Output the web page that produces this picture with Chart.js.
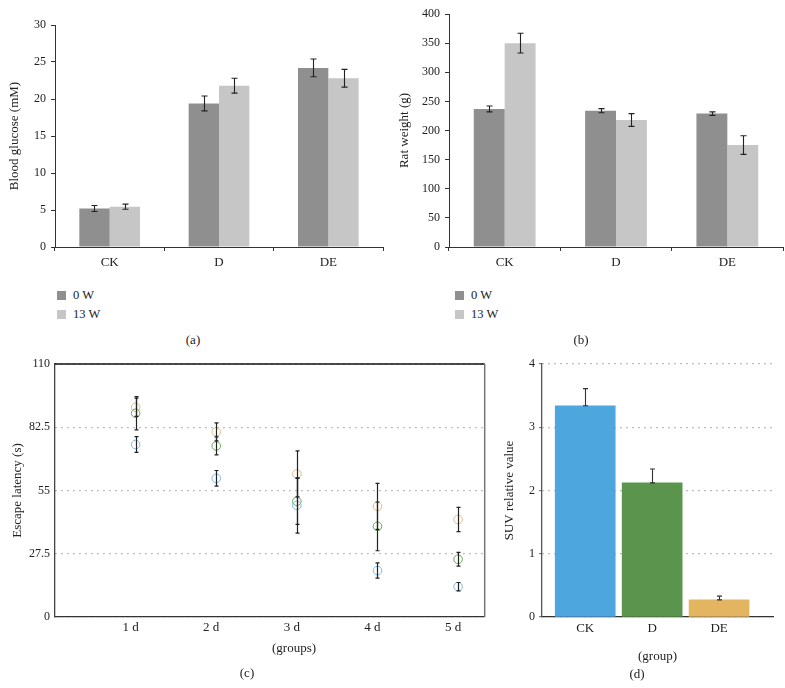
<!DOCTYPE html>
<html>
<head>
<meta charset="utf-8">
<script src="https://cdn.jsdelivr.net/npm/chart.js@4.4.0/dist/chart.umd.min.js"></script>
<style>
  body { margin: 0; background: #fff; width: 785px; height: 688px; position: relative; overflow: hidden;
         font-family: "Liberation Serif", serif; color: #222; }
  canvas { position: absolute; }
  .cap { position: absolute; font-size: 13px; transform: translate(-50%, -50%); white-space: nowrap; }
  .legend { position: absolute; font-size: 12.5px; line-height: 19px; }
  .legend .box { display: inline-block; width: 9px; height: 9px; margin-right: 7px; vertical-align: -1px; }
</style>
</head>
<body>
<canvas id="chartA" width="390" height="272" style="left:0;top:0"></canvas>
<canvas id="chartB" width="395" height="272" style="left:390px;top:0"></canvas>
<canvas id="chartC" width="490" height="310" style="left:0;top:350px"></canvas>
<canvas id="chartD" width="305" height="320" style="left:480px;top:350px"></canvas>
<div class="legend" id="legendA" style="left:57px;top:286px"></div>
<div class="legend" id="legendB" style="left:455px;top:286px"></div>
<div class="cap" style="left:193px;top:340px">(a)</div>
<div class="cap" style="left:581px;top:340px">(b)</div>
<div class="cap" style="left:294px;top:648px">(groups)</div>
<div class="cap" style="left:247px;top:673px">(c)</div>
<div class="cap" style="left:637px;top:674px">(d)</div>
<script>
// (a) + (b): groups and weeks
const groups = ['CK', 'D', 'DE'];
const weeks = ['0 W', '13 W'];
const glucose0W = [5.2, 19.4, 24.2];
const glucose0WErr = [0.4, 1.0, 1.2];
const glucose13W = [5.45, 21.8, 22.8];
const glucose13WErr = [0.35, 1.0, 1.2];
const weight0W = [237, 234, 229];
const weight0WErr = [5, 3.5, 3];
const weight13W = [350, 218, 175];
const weight13WErr = [17, 11, 16];

// (c): escape latency per day
const days = ['1 d', '2 d', '3 d', '4 d', '5 d'];
const latencyCK = [75.0, 60.3, 48.5, 20.2, 13.2];
const latencyCKErr = [3.4, 3.4, 12, 3.3, 1.8];
const latencyD = [88.6, 74.4, 50.3, 39.4, 25.1];
const latencyDErr = [7.2, 3.9, 10, 10.6, 3];
const latencyDE = [91.2, 80.5, 62.2, 48.1, 42.4];
const latencyDEErr = [4, 3.9, 10, 10, 5.3];

// (d): SUV
const suv = [3.34, 2.12, 0.27];
const suvErr = [0.27, 0.22, 0.06];

const greyColors = ['#8f8f8f', '#c6c6c6'];
const groupColors = ['#4ea6df', '#5b954d', '#e3b561'];
const pointColors = ['#7db9e3', '#6ba656', '#ddbb85'];

Chart.defaults.font.family = '"Liberation Serif", serif';
Chart.defaults.font.size = 12;
Chart.defaults.color = '#222';
Chart.defaults.animation = false;
Chart.defaults.plugins.legend.display = false;
Chart.defaults.plugins.tooltip.enabled = false;

const titleFont = { size: 13 };
const catFont = { size: 13 };

// error bars drawn with the y scale of each chart
const errorBars = {
  id: 'errorBars',
  afterDatasetsDraw(chart, args, opts) {
    const ctx = chart.ctx;
    const y = chart.scales.y;
    const cap = opts.cap || 3;
    chart.data.datasets.forEach((ds, di) => {
      if (!ds.errors) return;
      const meta = chart.getDatasetMeta(di);
      ctx.save();
      ctx.strokeStyle = opts.color || '#222';
      ctx.lineWidth = opts.width || 1;
      meta.data.forEach((el, i) => {
        const raw = ds.data[i];
        const val = typeof raw === 'object' ? raw.y : raw;
        const e = ds.errors[i];
        const top = y.getPixelForValue(val + e);
        const bot = y.getPixelForValue(opts.upOnly ? val : val - e);
        const x = Math.round(el.x) + 0.5;
        ctx.beginPath();
        ctx.moveTo(x, top); ctx.lineTo(x, bot);
        ctx.moveTo(x - cap, top); ctx.lineTo(x + cap, top);
        ctx.moveTo(x - cap, bot); ctx.lineTo(x + cap, bot);
        ctx.stroke();
      });
      ctx.restore();
    });
  }
};

const frame = {
  id: 'frame',
  afterDraw(chart) {
    const { ctx, chartArea: a } = chart;
    ctx.save();
    ctx.lineWidth = 1.5;
    ctx.strokeStyle = '#111';
    ctx.beginPath(); ctx.moveTo(a.left, a.top); ctx.lineTo(a.right, a.top); ctx.stroke();
    ctx.strokeStyle = '#777';
    ctx.beginPath(); ctx.moveTo(a.right, a.top); ctx.lineTo(a.right, a.bottom); ctx.stroke();
    ctx.restore();
  }
};

function greyBarChart(id, values, title, max, step, yWidth, pad, tickPad) {
  return new Chart(document.getElementById(id), {
    type: 'bar',
    data: {
      labels: groups,
      datasets: weeks.map((w, i) => ({
        label: w,
        data: values[i][0],
        errors: values[i][1],
        backgroundColor: greyColors[i],
        categoryPercentage: 0.555,
        barPercentage: 1.0
      }))
    },
    options: {
      responsive: false,
      layout: { padding: pad },
      plugins: { errorBars: { cap: 3, width: 1.1, color: '#222' } },
      scales: {
        x: {
          grid: { offset: true, drawOnChartArea: false, tickLength: 4, color: '#333' },
          border: { color: '#333' },
          ticks: { padding: 4, font: catFont },
          afterFit: s => { s.height = 25; }
        },
        y: {
          min: 0, max: max,
          ticks: { stepSize: step, padding: tickPad },
          grid: { drawOnChartArea: false, tickLength: 4, color: '#333' },
          border: { color: '#333' },
          title: { display: true, text: title, font: titleFont, padding: { top: 7, bottom: 0 } },
          afterFit: s => { s.width = yWidth; }
        }
      }
    },
    plugins: [errorBars]
  });
}

greyBarChart('chartA', [[glucose0W, glucose0WErr], [glucose13W, glucose13WErr]],
  'Blood glucose (mM)', 30, 5, 55, { top: 25, right: 7, left: 0, bottom: 0 }, 5);
greyBarChart('chartB', [[weight0W, weight0WErr], [weight13W, weight13WErr]],
  'Rat weight (g)', 400, 50, 59, { top: 14, right: 2, left: 0, bottom: 0 }, 5);

['legendA', 'legendB'].forEach(id => {
  document.getElementById(id).innerHTML = weeks.map((w, i) =>
    '<div><span class="box" style="background:' + greyColors[i] + '"></span>' + w + '</div>').join('');
});

// (c)
const latency = [[latencyCK, latencyCKErr], [latencyD, latencyDErr], [latencyDE, latencyDEErr]];
new Chart(document.getElementById('chartC'), {
  type: 'scatter',
  data: {
    datasets: latency.map((s, k) => ({
      label: groups[k],
      data: s[0].map((v, i) => ({ x: i + 1, y: v })),
      errors: s[1],
      borderColor: pointColors[k],
      backgroundColor: 'rgba(0,0,0,0)',
      pointRadius: 4.3,
      borderWidth: 1
    }))
  },
  options: {
    responsive: false,
    layout: { padding: { top: 14, right: 3, left: 0, bottom: 0 } },
    plugins: { errorBars: { cap: 2, width: 1.2, color: '#222' } },
    scales: {
      x: {
        type: 'linear', min: 0, max: 5.33,
        afterBuildTicks: s => { s.ticks = days.map((d, i) => ({ value: i + 1 })); },
        ticks: { callback: v => days[v - 1], padding: 3, labelOffset: -5, font: catFont },
        grid: { display: false, drawTicks: false },
        border: { color: '#333', width: 1.3 },
        afterFit: s => { s.height = 43; }
      },
      y: {
        min: 0, max: 110,
        ticks: { stepSize: 27.5, padding: 5 },
        grid: { color: '#999', lineWidth: 1.3, drawTicks: false },
        border: { color: '#444', width: 1.3, dash: [1.3, 4.7] },
        title: { display: true, text: 'Escape latency (s)', font: titleFont, padding: { top: 10, bottom: 0 } },
        afterFit: s => { s.width = 55; }
      }
    }
  },
  plugins: [errorBars, frame]
});

// (d)
new Chart(document.getElementById('chartD'), {
  type: 'bar',
  data: {
    datasets: [{
      label: 'SUV',
      data: suv.map((v, i) => ({ x: i, y: v })),
      errors: suvErr,
      backgroundColor: groupColors,
      barThickness: 60
    }]
  },
  options: {
    responsive: false,
    layout: { padding: { top: 14, right: 12, left: 0, bottom: 0 } },
    plugins: { errorBars: { cap: 2.5, width: 1.1, color: '#333', upOnly: true } },
    scales: {
      x: {
        type: 'linear', min: -0.646, max: 2.806, offset: false,
        afterBuildTicks: s => { s.ticks = groups.map((g, i) => ({ value: i })); },
        ticks: { callback: v => groups[v], padding: 3.5, font: catFont },
        grid: { display: false, drawTicks: false },
        border: { color: '#333', width: 1.3 },
        title: { display: true, text: '(group)', font: titleFont, padding: { top: 0, bottom: 5.5 } },
        afterFit: s => { s.height = 53; }
      },
      y: {
        min: 0, max: 4,
        ticks: { stepSize: 1, padding: 4 },
        grid: { color: '#999', lineWidth: 1.3, tickLength: 3, tickColor: '#666', tickWidth: 1 },
        border: { color: '#555', width: 1.3, dash: [1.3, 4.7] },
        title: { display: true, text: 'SUV relative value', font: titleFont, padding: { top: 22, bottom: 0 } },
        afterFit: s => { s.width = 62; }
      }
    }
  },
  plugins: [errorBars]
});
</script>
</body>
</html>
